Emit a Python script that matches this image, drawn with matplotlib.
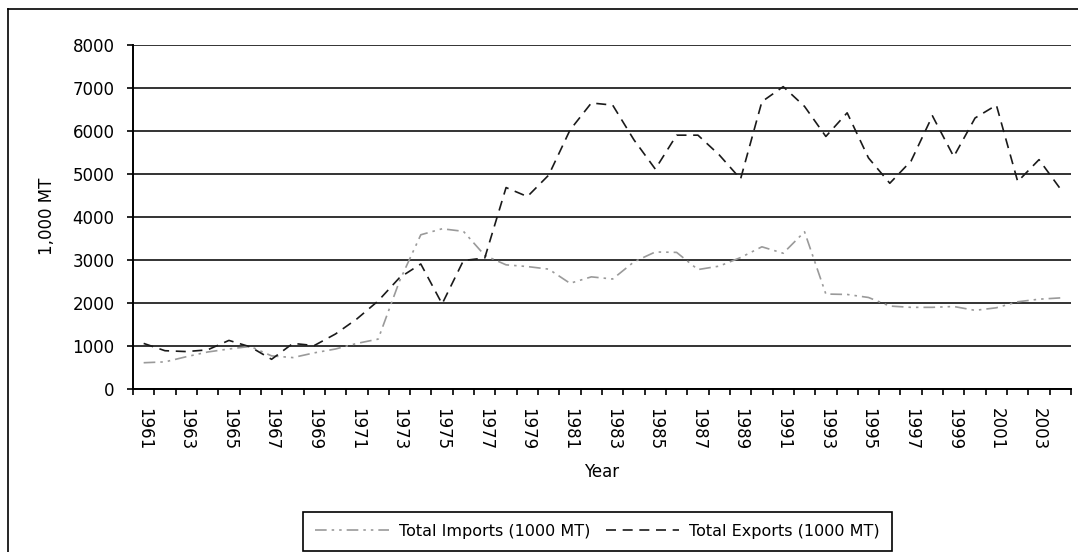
import matplotlib
matplotlib.use("Agg")
import matplotlib.pyplot as plt
from matplotlib.lines import Line2D
import numpy as np

# Datos (1000 MT)
years = list(range(1961, 2005))
imports = [600, 620, 740, 850, 920, 980, 760, 720, 830, 920,
           1050, 1150, 2500, 3580, 3720, 3660, 3100, 2880, 2840, 2780,
           2450, 2600, 2550, 2950, 3180, 3170, 2770, 2850, 3050, 3300,
           3150, 3650, 2200, 2190, 2120, 1920, 1890, 1890, 1910, 1820,
           1880, 2020, 2080, 2110]
exports = [1050, 880, 860, 900, 1120, 970, 680, 1050, 1000, 1270,
           1620, 2040, 2580, 2900, 1970, 2980, 3040, 4680, 4470, 4970,
           6020, 6650, 6600, 5790, 5110, 5900, 5900, 5440, 4880, 6680,
           7030, 6570, 5870, 6420, 5370, 4780, 5300, 6350, 5400, 6300,
           6600, 4820, 5330, 4650]
label_years = years[::2]
y_ticks = [0, 1000, 2000, 3000, 4000, 5000, 6000, 7000, 8000]

W, H = 1078, 552
fig = plt.figure(figsize=(W / 100, H / 100), dpi=100)
plt.rcParams['font.family'] = 'DejaVu Sans'

# Marco exterior del grafico
x0, y0 = 8 / W, 1 - 9 / H
fig.add_artist(Line2D([x0, x0], [0, y0], color='black', lw=1.2))
fig.add_artist(Line2D([x0, 1], [y0, y0], color='black', lw=1.2))

ax = fig.add_axes([133 / W, 1 - 388.5 / H, (1071 - 133) / W, (388.5 - 45) / H])

ax.plot(years, imports, color='#9a9a9a', lw=1.2,
        dashes=(7, 3, 1.5, 3, 1.5, 3), label='Total Imports (1000 MT)')
ax.plot(years, exports, color='#1a1a1a', lw=1.2,
        dashes=(6, 4), label='Total Exports (1000 MT)')

ax.set_xlim(1960.5, 2004.5)
ax.set_ylim(0, 8000)
ax.set_yticks(y_ticks)
ax.set_yticklabels([str(v) for v in y_ticks], fontsize=12)
ax.yaxis.grid(True, color='#333333', lw=1.4)
ax.set_axisbelow(True)

ax.set_xticks(label_years)
ax.set_xticklabels([str(y) for y in label_years], rotation=-90, fontsize=12)
ax.set_xticks(np.arange(1960.5, 2005, 1), minor=True)
ax.tick_params(axis='x', which='major', length=0, pad=14)
ax.tick_params(axis='x', which='minor', length=4.3, width=1.2)
ax.tick_params(axis='y', length=4.3, width=1.2, pad=9)

for s in ['top', 'right']:
    ax.spines[s].set_visible(False)
for s in ['left', 'bottom']:
    ax.spines[s].set_linewidth(1.4)

ax.set_ylabel('1,000 MT', fontsize=12, labelpad=12)
ax.set_xlabel('Year', fontsize=12, labelpad=9)

leg = fig.legend(loc='center', bbox_to_anchor=(597.5 / W, 1 - 531.5 / H),
                 ncol=2, fontsize=11.5, fancybox=False, edgecolor='black',
                 framealpha=1, handlelength=4.6, columnspacing=1.0,
                 handletextpad=0.6, borderpad=0.75)
leg.get_frame().set_linewidth(1.2)

plt.savefig('out.png', dpi=100)
